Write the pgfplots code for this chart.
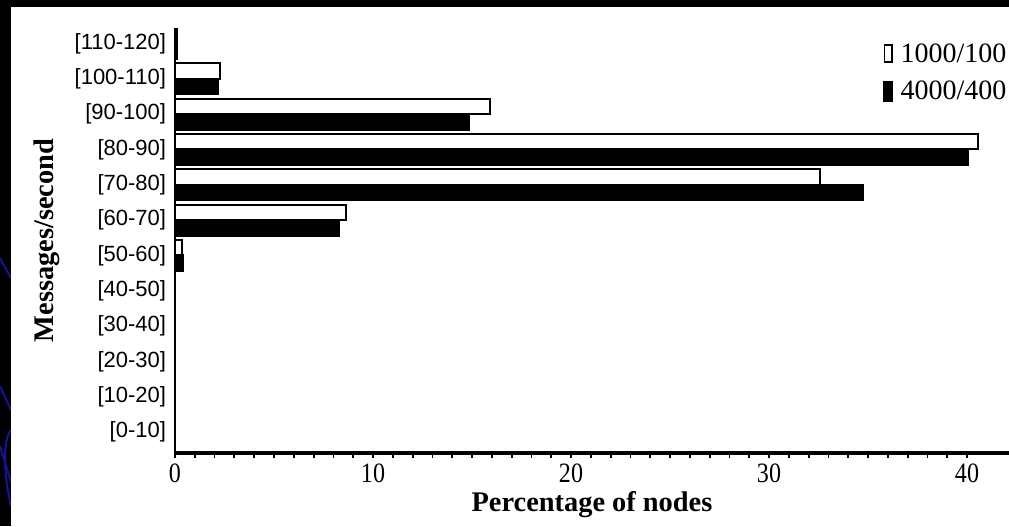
\documentclass[border=0pt]{standalone}
\usepackage{fontspec}
\setmainfont{Liberation Serif}
\newfontfamily\sansf{Liberation Sans}
\newfontfamily\narrowserif[FakeStretch=0.86]{Liberation Serif}
\usepackage{pgfplots}
\pgfplotsset{compat=1.18}
\definecolor{navy}{RGB}{20,20,150}
\begin{document}
\begin{tikzpicture}
\useasboundingbox (0,0) rectangle (504.5pt,263pt);
\clip (0,0) rectangle (504.5pt,263pt);
\fill[black] (0,0) rectangle (504.5pt,263pt);
\begin{scope}[navy, line width=1pt]
\draw (0pt,134pt) -- (5.5pt,124pt);
\draw (5.5pt,48pt) .. controls (2pt,44pt) and (1pt,30pt) .. (5.5pt,10pt);
\draw (0pt,40pt) -- (5.5pt,22pt);
\draw (0pt,70pt) -- (5.5pt,58pt);
\end{scope}
\fill[white] (5.5pt,0pt) rectangle (504.5pt,259.5pt);
\begin{axis}[
  at={(87.5pt,36.5pt)}, anchor=south west,
  scale only axis, width=417pt, height=212.5pt,
  xmin=0, xmax=42.12, ymin=-0.595, ymax=11.44,
  axis lines*=left,
  axis on top,
  x axis line style={line width=2pt},
  y axis line style={line width=1.3pt},
  xtick={0,10,20,30,40}, minor x tick num=9,
  ytick={0,1,2,3,4,5,6,7,8,9,10,11},
  yticklabels={{[0-10]},{[10-20]},{[20-30]},{[30-40]},{[40-50]},{[50-60]},{[60-70]},{[70-80]},{[80-90]},{[90-100]},{[100-110]},{[110-120]}},
  ytick style={draw=none},
  xtick style={line width=0.9pt, black},
  tick align=outside,
  major tick length=2.5pt, minor tick length=2.5pt,
  /pgf/number format/assume math mode=true,
  xticklabel style={font=\narrowserif\fontsize{14}{14}\selectfont, inner sep=0pt, yshift=-2.5pt},
  yticklabel style={font=\sansf\fontsize{11}{11}\selectfont, inner sep=0pt, xshift=-1.8pt},
  xlabel={\textbf{Percentage of nodes}},
  ylabel={\textbf{Messages/second}},
  every axis x label/.style={at={(rel axis cs:0.5,-0.1365)}, anchor=base, font=\fontsize{14.2}{14.2}\selectfont},
  every axis y label/.style={at={(rel axis cs:-0.1535,0.5)}, anchor=center, rotate=90, font=\fontsize{14.2}{14.2}\selectfont},
  legend style={at={(rel axis cs:0.849,0.9835)}, anchor=north west, draw=none, fill=none, inner sep=0pt,
    font=\fontsize{14}{14}\selectfont, nodes={inner sep=4pt}},
  legend cell align=left,
]
\addplot[xbar, bar width=0.44, bar shift=0.22, draw=black, fill=white, line width=1pt,
  legend image code/.code={\draw[line width=0.9pt, fill=white] (0pt,-4pt) rectangle (3.6pt,4.8pt);}]
  coordinates {(0,0) (0,1) (0,2) (0,3) (0,4) (0.35,5) (8.65,6) (32.6,7) (40.55,8) (15.9,9) (2.27,10) (0.12,11)};
\addplot[xbar, bar width=0.44, bar shift=-0.22, draw=black, fill=black, line width=1pt,
  legend image code/.code={\fill[black] (0pt,-4.4pt) rectangle (3.6pt,5pt);}]
  coordinates {(0,0) (0,1) (0,2) (0,3) (0,4) (0.4,5) (8.3,6) (34.75,7) (40.05,8) (14.85,9) (2.15,10) (0.12,11)};
\legend{1000/100, 4000/400}
\end{axis}
\end{tikzpicture}
\end{document}
